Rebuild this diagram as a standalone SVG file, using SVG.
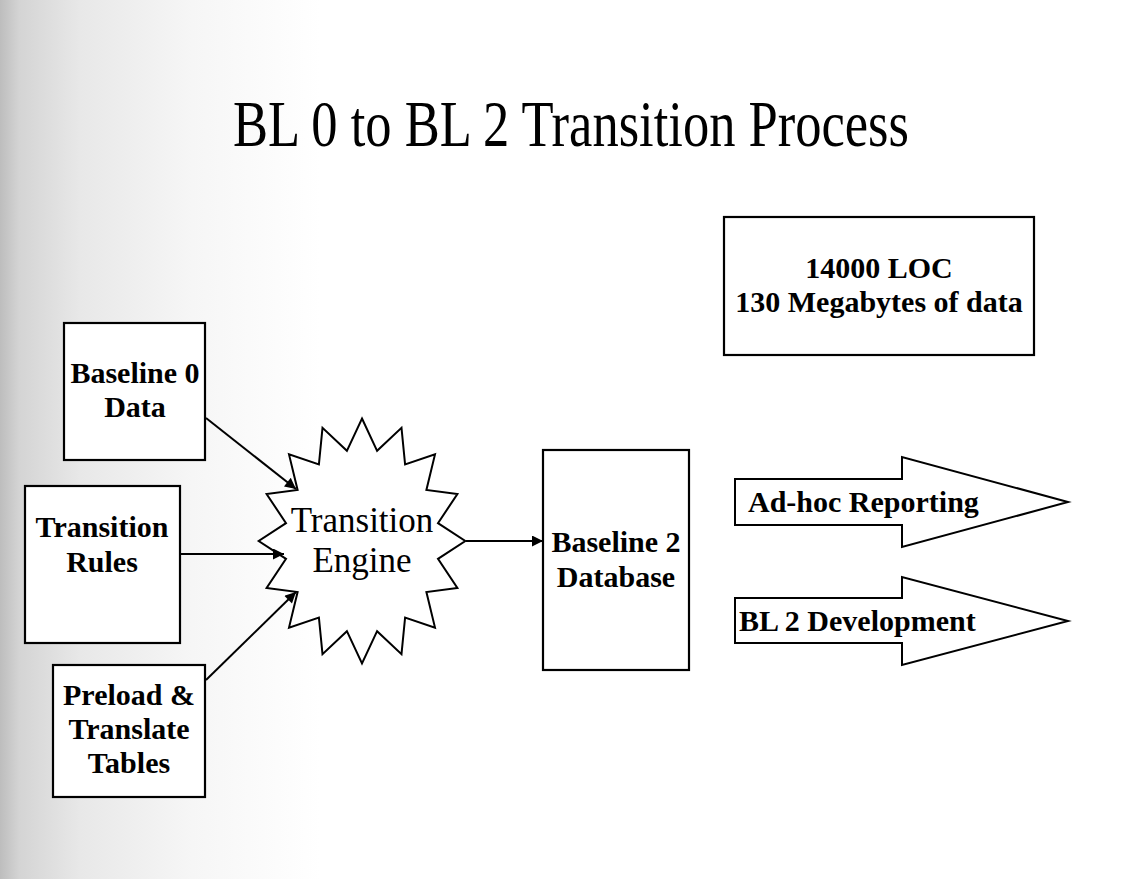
<svg xmlns="http://www.w3.org/2000/svg" width="1142" height="879" viewBox="0 0 1142 879">
  <defs>
    <linearGradient id="bg" x1="0" y1="0" x2="1" y2="0" gradientUnits="objectBoundingBox">
      <stop offset="0" stop-color="#bdbdbd"/>
      <stop offset="0.06" stop-color="#d4d4d4"/>
      <stop offset="0.25" stop-color="#e8e8e8"/>
      <stop offset="0.6" stop-color="#f6f6f6"/>
      <stop offset="1" stop-color="#ffffff"/>
    </linearGradient>
    <marker id="ah" viewBox="0 0 10 10" refX="10" refY="5" markerWidth="15" markerHeight="11" markerUnits="userSpaceOnUse" orient="auto">
      <path d="M0,0 L10,5 L0,10 z" fill="#000"/>
    </marker>
    <style>
      .box { fill: #fff; stroke: #000; stroke-width: 2.2; }
      .lbl { font-family: "Liberation Serif", "Times New Roman", serif; font-weight: bold; font-size: 30px; fill: #000; text-anchor: middle; }
      .lblL { font-family: "Liberation Serif", "Times New Roman", serif; font-weight: bold; font-size: 30px; fill: #000; }
      .title { font-family: "Liberation Serif", "Times New Roman", serif; font-size: 66px; fill: #000; }
      .star { font-family: "Liberation Serif", "Times New Roman", serif; font-size: 35px; fill: #000; text-anchor: middle; }
      .conn { stroke: #000; stroke-width: 2; fill: none; marker-end: url(#ah); }
    </style>
  </defs>

  <rect x="0" y="0" width="1142" height="879" fill="#fff"/>
  <rect x="0" y="0" width="320" height="879" fill="url(#bg)"/>

  <text class="title" x="233" y="146" textLength="676" lengthAdjust="spacingAndGlyphs">BL 0 to BL 2 Transition Process</text>

  <g id="node-loc">
    <rect class="box" x="724" y="217" width="310" height="138"/>
    <text class="lbl" x="879" y="278">14000 LOC</text>
    <text class="lbl" x="879" y="312">130 Megabytes of data</text>
  </g>

  <g id="node-baseline0">
    <rect class="box" x="64" y="323" width="141" height="137"/>
    <text class="lbl" x="135" y="383">Baseline 0</text>
    <text class="lbl" x="135" y="417">Data</text>
  </g>

  <g id="node-rules">
    <rect class="box" x="25" y="486" width="155" height="157"/>
    <text class="lbl" x="102" y="537">Transition</text>
    <text class="lbl" x="102" y="572">Rules</text>
  </g>

  <g id="node-preload">
    <rect class="box" x="53" y="665" width="152" height="132"/>
    <text class="lbl" x="129" y="705">Preload &amp;</text>
    <text class="lbl" x="129" y="739">Translate</text>
    <text class="lbl" x="129" y="773">Tables</text>
  </g>

  <g id="node-engine">
    <polygon fill="#fff" stroke="#000" stroke-width="2" points="362,418.5 377.1,450.8 401.5,427.8 405.1,464.5 435,454.4 426.4,489.9 457.4,494.1 438,523.1 465.3,541 438,558.9 457.4,587.9 426.4,592.1 435,627.6 405.1,617.5 401.5,654.2 377.1,631.2 362,663.5 346.9,631.2 322.5,654.2 318.9,617.5 289,627.6 297.6,592.1 266.6,587.9 286,558.9 258.7,541 286,523.1 266.6,494.1 297.6,489.9 289,454.4 318.9,464.5 322.5,427.8 346.9,450.8"/>
    <text class="star" x="362" y="532">Transition</text>
    <text class="star" x="362" y="572">Engine</text>
  </g>

  <g id="node-baseline2">
    <rect class="box" x="543" y="450" width="146" height="220"/>
    <text class="lbl" x="616" y="552">Baseline 2</text>
    <text class="lbl" x="616" y="587">Database</text>
  </g>

  <g id="node-adhoc">
    <polygon fill="#fff" stroke="#000" stroke-width="2" points="735,479 902,479 902,457 1068,502 902,547 902,525 735,525"/>
    <text class="lblL" x="748" y="512">Ad-hoc Reporting</text>
  </g>

  <g id="node-bl2dev">
    <polygon fill="#fff" stroke="#000" stroke-width="2" points="735,598 902,598 902,577 1068,621 902,665 902,643 735,643"/>
    <text class="lblL" x="739" y="631">BL 2 Development</text>
  </g>

  <g id="connectors">
    <line class="conn" x1="206" y1="418" x2="296" y2="489"/>
    <line class="conn" x1="180" y1="554" x2="284" y2="554"/>
    <line class="conn" x1="206" y1="680" x2="296" y2="592"/>
    <line class="conn" x1="466" y1="541" x2="543" y2="541"/>
  </g>
</svg>
